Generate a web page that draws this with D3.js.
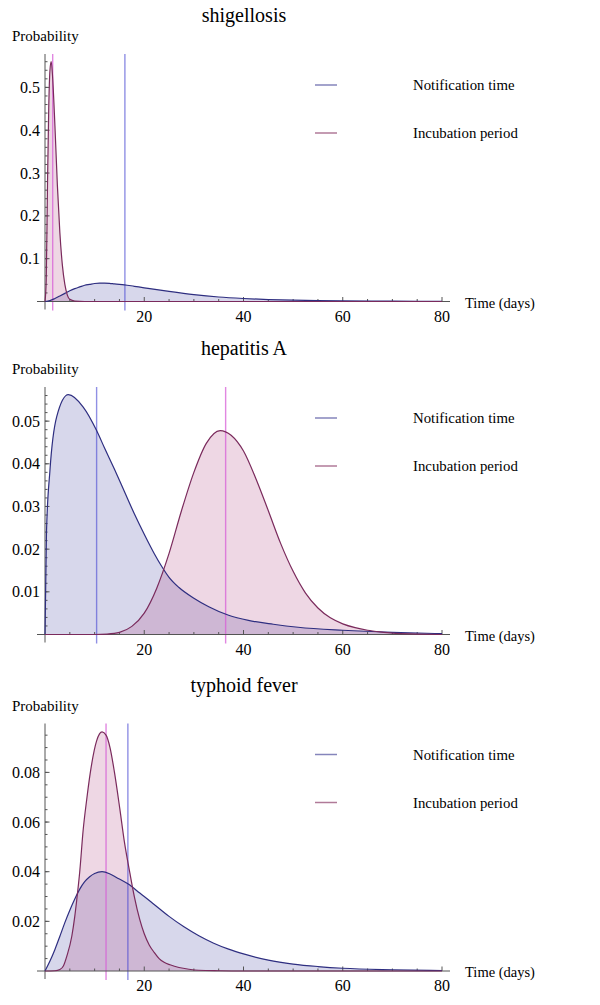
<!DOCTYPE html>
<html>
<head>
<meta charset="utf-8">
<title>Notification time vs incubation period</title>
<script src="https://cdn.jsdelivr.net/npm/d3@7"></script>
<style>
  body { margin: 0; background: #fff; }
  text { font-family: "Liberation Serif", "DejaVu Serif", serif; fill: #000; }
</style>
</head>
<body>
<div id="chart"></div>
<script>
// values (days -> probability)
var titles = ["shigellosis", "hepatitis A", "typhoid fever"]
var legendNames = ["Notification time", "Incubation period"]
var xTicks = [20, 40, 60, 80]

var shigNotifDays = [0, 1, 2, 3, 4, 5, 6, 7, 8, 9, 10, 11, 12, 13, 14, 16, 18, 20, 25, 30, 35, 40, 45, 50, 55, 60, 70, 80]
var shigNotifProb = [0, 0.002, 0.007, 0.013, 0.019, 0.025, 0.030, 0.034, 0.038, 0.040, 0.042, 0.043, 0.043, 0.0425, 0.041, 0.039, 0.0355, 0.032, 0.0235, 0.016, 0.0105, 0.007, 0.0045, 0.003, 0.002, 0.0014, 0.0007, 0.0003]
var shigIncubDays = [0, 0.25, 0.5, 0.75, 1, 1.25, 1.5, 2, 2.5, 3, 3.5, 4, 4.5, 5, 6, 8, 80]
var shigIncubProb = [0, 0.05, 0.27, 0.45, 0.54, 0.56, 0.53, 0.41, 0.27, 0.16, 0.085, 0.04, 0.015, 0.005, 0.001, 0, 0]

var hepNotifDays = [0, 0.3, 1, 2.35, 4.7, 7.7, 10.4, 12, 14, 16, 18, 20, 22, 23.5, 25, 27, 30, 33, 37, 41, 46, 51, 60, 70, 80]
var hepNotifProb = [0, 0.024, 0.0385, 0.051, 0.0562, 0.0533, 0.0478, 0.0437, 0.0387, 0.0335, 0.0283, 0.0235, 0.019, 0.016, 0.0134, 0.011, 0.0085, 0.0065, 0.0045, 0.0033, 0.0024, 0.0017, 0.001, 0.0005, 0.0002]
var hepIncubDays = [0, 10, 12.5, 15, 17.5, 20, 22.5, 25, 27.5, 30, 32.5, 35.3, 37.5, 40, 42.5, 45, 47.5, 50, 52.5, 55, 57.5, 60, 62.5, 65, 67.5, 70, 75, 80]
var hepIncubProb = [0, 0, 0.0001, 0.0005, 0.0019, 0.005, 0.0108, 0.019, 0.029, 0.038, 0.0448, 0.0478, 0.0467, 0.043, 0.0365, 0.029, 0.0213, 0.0148, 0.0097, 0.0062, 0.0039, 0.0025, 0.0016, 0.001, 0.0006, 0.0003, 0.0001, 0]

var typhNotifDays = [0, 1, 2, 3, 4, 5, 6, 7, 8, 9, 10, 11.5, 13, 14.4, 16.7, 19.1, 22, 25, 28, 31, 34, 37, 40, 45, 50, 55, 60, 70, 80]
var typhNotifProb = [0, 0.004, 0.0087, 0.014, 0.0195, 0.0245, 0.029, 0.033, 0.036, 0.038, 0.0393, 0.040, 0.0392, 0.0377, 0.0351, 0.0314, 0.0268, 0.022, 0.0178, 0.0142, 0.0112, 0.0088, 0.0069, 0.0044, 0.0028, 0.0018, 0.0011, 0.0005, 0.0002]
var typhIncubDays = [0, 2, 3, 3.7, 4.4, 5.4, 6, 6.4, 7, 7.7, 8.4, 9.1, 10.4, 11.5, 12.3, 13.1, 14, 15.1, 16, 17.1, 18, 19.1, 20, 21, 22, 23, 24, 25.2, 27, 29, 31, 35, 40, 80]
var typhIncubProb = [0, 0.0001, 0.0006, 0.002, 0.006, 0.014, 0.022, 0.0287, 0.040, 0.057, 0.069, 0.0795, 0.0927, 0.0963, 0.095, 0.090, 0.080, 0.065, 0.052, 0.0395, 0.030, 0.0207, 0.015, 0.0105, 0.0075, 0.005, 0.0035, 0.0025, 0.0014, 0.0007, 0.0003, 0.0001, 0, 0]

// vertical markers: [notification, incubation]
var markerDays = [[16.1, 1.55], [10.4, 36.4], [16.7, 12.3]]

var yMax = [0.578, 0.058, 0.0997]
var yTickVals = [[0.1, 0.2, 0.3, 0.4, 0.5], [0.01, 0.02, 0.03, 0.04, 0.05], [0.02, 0.04, 0.06, 0.08]]
var yTickLabels = [["0.1", "0.2", "0.3", "0.4", "0.5"], ["0.01", "0.02", "0.03", "0.04", "0.05"], ["0.02", "0.04", "0.06", "0.08"]]
var yMinorStep = [0.02, 0.002, 0.005]

var series = [
  [[shigNotifDays, shigNotifProb], [shigIncubDays, shigIncubProb]],
  [[hepNotifDays, hepNotifProb], [hepIncubDays, hepIncubProb]],
  [[typhNotifDays, typhNotifProb], [typhIncubDays, typhIncubProb]]
]

var W = 600, H = 1005
var panelTop = [54, 387, 723.5]
var plotH = 247.5
var axisCol = "#555"
var fillCol = ["rgba(55,55,155,0.2)", "rgba(170,55,120,0.2)"]
var lineCol = ["#2e2e80", "#7a2a5c"]
var markCol = ["rgba(70,70,210,0.6)", "rgba(215,95,215,0.75)"]
var legendCol = ["#8585bb", "#b07a98"]

var svg = d3.select("#chart").append("svg")
  .attr("width", W).attr("height", H)

var x = d3.scaleLinear().domain([0, 80]).range([45, 442])

for (var p = 0; p < 3; p++) {
  var g = svg.append("g").attr("transform", "translate(0," + panelTop[p] + ")")
  var y = d3.scaleLinear().domain([0, yMax[p]]).range([plotH, 0])

  var area = d3.area().curve(d3.curveMonotoneX)
    .x(function (d) { return x(d[0]) })
    .y0(y(0))
    .y1(function (d) { return y(d[1]) })
  var line = d3.line().curve(d3.curveMonotoneX)
    .x(function (d) { return x(d[0]) })
    .y(function (d) { return y(d[1]) })

  // fills
  series[p].forEach(function (s, i) {
    var pts = d3.zip(s[0], s[1])
    g.append("path").datum(pts)
      .attr("fill", fillCol[i])
      .attr("d", area)
  })

  // marker lines
  markerDays[p].forEach(function (d, i) {
    g.append("line")
      .attr("x1", x(d)).attr("x2", x(d))
      .attr("y1", 0).attr("y2", plotH + 9)
      .attr("stroke", markCol[i])
      .attr("stroke-width", 1.4)
  })

  // axes
  g.append("line").attr("x1", 37).attr("x2", 450)
    .attr("y1", y(0)).attr("y2", y(0))
    .attr("stroke", axisCol).attr("stroke-width", 1)
  g.append("line").attr("x1", x(0)).attr("x2", x(0))
    .attr("y1", 0).attr("y2", plotH + 8)
    .attr("stroke", axisCol).attr("stroke-width", 1)

  // x ticks
  var xMinor = d3.range(5, 81, 5).filter(function (v) { return xTicks.indexOf(v) < 0 })
  g.selectAll(".xminor").data(xMinor).enter().append("line")
    .attr("x1", function (d) { return x(d) }).attr("x2", function (d) { return x(d) })
    .attr("y1", y(0)).attr("y2", y(0) - 2.5)
    .attr("stroke", axisCol)
  g.selectAll(".xmajor").data(xTicks).enter().append("line")
    .attr("x1", function (d) { return x(d) }).attr("x2", function (d) { return x(d) })
    .attr("y1", y(0)).attr("y2", y(0) - 4.5)
    .attr("stroke", axisCol)
  g.selectAll(".xlab").data(xTicks).enter().append("text")
    .attr("x", function (d) { return x(d) })
    .attr("y", y(0) + 20)
    .attr("text-anchor", "middle")
    .style("font-size", "16px")
    .text(function (d) { return d })

  // y ticks
  var yMinor = d3.range(yMinorStep[p], yMax[p], yMinorStep[p])
  g.selectAll(".yminor").data(yMinor).enter().append("line")
    .attr("x1", x(0)).attr("x2", x(0) + 2.5)
    .attr("y1", function (d) { return y(d) }).attr("y2", function (d) { return y(d) })
    .attr("stroke", axisCol)
  g.selectAll(".ymajor").data(yTickVals[p]).enter().append("line")
    .attr("x1", x(0)).attr("x2", x(0) + 4.5)
    .attr("y1", function (d) { return y(d) }).attr("y2", function (d) { return y(d) })
    .attr("stroke", axisCol)
  g.selectAll(".ylab").data(yTickVals[p]).enter().append("text")
    .attr("x", 40)
    .attr("y", function (d) { return y(d) })
    .attr("dy", "0.35em")
    .attr("text-anchor", "end")
    .style("font-size", "16px")
    .text(function (d, i) { return yTickLabels[p][i] })

  // curves
  series[p].forEach(function (s, i) {
    var pts = d3.zip(s[0], s[1])
    g.append("path").datum(pts)
      .attr("fill", "none")
      .attr("stroke", lineCol[i])
      .attr("stroke-width", 1.2)
      .attr("d", line)
  })

  // labels
  g.append("text").attr("x", 244).attr("y", -39).attr("dy", "0.35em")
    .attr("text-anchor", "middle").style("font-size", "20px")
    .text(titles[p])
  g.append("text").attr("x", 12).attr("y", -18).attr("dy", "0.35em")
    .style("font-size", "15px").text("Probability")
  g.append("text").attr("x", 465).attr("y", y(0) + 1).attr("dy", "0.35em")
    .style("font-size", "14.5px").text("Time (days)")

  // legend
  legendNames.forEach(function (name, i) {
    var ly = 31 + i * 48
    g.append("line").attr("x1", 315).attr("x2", 337)
      .attr("y1", ly).attr("y2", ly)
      .attr("stroke", legendCol[i]).attr("stroke-width", 1.5)
    g.append("text").attr("x", 413).attr("y", ly).attr("dy", "0.35em")
      .style("font-size", "14.8px").text(name)
  })
}
</script>
</body>
</html>
